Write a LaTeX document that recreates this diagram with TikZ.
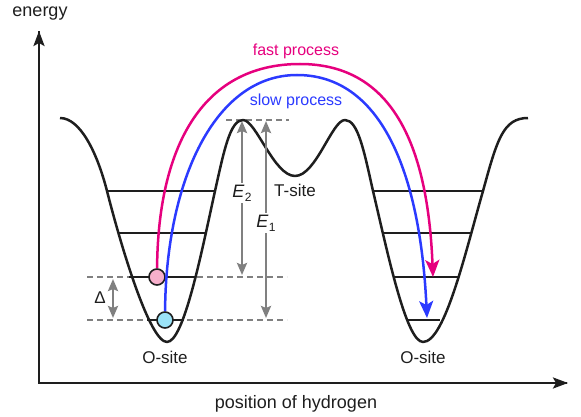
\documentclass[tikz,border=0pt]{standalone}
\usepackage{fontspec}
\setmainfont{Liberation Sans}
\usetikzlibrary{arrows.meta}
\definecolor{fastc}{RGB}{230,0,126}
\definecolor{slowc}{RGB}{43,58,255}
\definecolor{grayc}{RGB}{128,128,128}
\definecolor{pinkc}{RGB}{247,175,203}
\definecolor{cyanc}{RGB}{155,227,247}
\definecolor{inkc}{RGB}{30,30,30}
\begin{document}
\begin{tikzpicture}[x=1pt,y=-1pt,
  axis/.style={line width=2.4pt,draw=inkc,-{Stealth[length=15pt,width=11pt,inset=3pt]}},
  pot/.style={line width=2.5pt,draw=inkc,line join=round},
  level/.style={line width=2pt,draw=inkc},
  dashline/.style={line width=2pt,draw=grayc,dash pattern=on 6pt off 4pt},
  garrow/.style={line width=2.6pt,draw=grayc,{Stealth[length=12pt,width=10pt,inset=2pt]}-{Stealth[length=12pt,width=10pt,inset=2pt]}},
  proc/.style={line width=2.5pt,-{Stealth[length=17pt,width=14pt,inset=4pt]}},
  dot/.style={circle,draw=inkc,line width=1.6pt,minimum size=16pt,inner sep=0pt},
  lab/.style={inner sep=1pt,font=\fontsize{17}{19}\selectfont,text=inkc},
  elab/.style={inner sep=1.5pt,fill=white,font=\fontsize{18}{20}\selectfont,text=inkc}]
\useasboundingbox (0,0) rectangle (581,417);

% axes
\coordinate (O) at (39,383);
\coordinate (ytop) at (39,31);
\coordinate (xend) at (568,383);
\draw[line width=2.4pt,draw=inkc] (39,31.5) -- (O) -- (567,383);
\draw[axis] (O) -- (ytop);
\draw[axis] (O) -- (xend);
\node[lab,font=\fontsize{18}{20}\selectfont] (en) at (40,14) {energy};
\node[lab,font=\fontsize{18}{20}\selectfont] (ph) at (296,404) {position of hydrogen};

% dashed reference lines
\draw[dashline] (226,120) -- (289,120);
\draw[dashline] (87,277) -- (287,277);
\draw[dashline] (87,320) -- (287,320);

% energy levels
\draw[level] (107,191) -- (215,191);
\draw[level] (118,233) -- (206,233);
\draw[level] (129,277) -- (196,277);
\draw[level] (147,320) -- (184,320);
\draw[level] (373,191) -- (483,191);
\draw[level] (382,233) -- (471,233);
\draw[level] (393,277) -- (458,277);
\draw[level] (408,320) -- (440,320);

% potential curve
\draw[pot] (60,118) .. controls (80,118) and (97,152) .. (107,191)
  .. controls (122,250) and (150,342) .. (167,342)
  .. controls (184,342) and (202,250) .. (215,191)
  .. controls (224,151) and (230,120) .. (243,120)
  .. controls (256,120) and (274,176) .. (295,176)
  .. controls (316,176) and (332,120) .. (345,120)
  .. controls (358,120) and (364,151) .. (373,191)
  .. controls (387,250) and (406,342) .. (423,342)
  .. controls (445,342) and (466,250) .. (483,191)
  .. controls (497,140) and (503,118) .. (528,118);

% gray arrows
\coordinate (e2t) at (242,121);
\coordinate (e2b) at (242,275);
\coordinate (e1t) at (266,121);
\coordinate (e1b) at (266,318);
\coordinate (dt) at (113,279);
\coordinate (db) at (113,318);
\draw[garrow] (e2t) -- (e2b);
\draw[garrow] (e1t) -- (e1b);
\draw[garrow] (dt) -- (db);
\node[elab] (E2) at (242,193) {\itshape E\kern0.5pt\raisebox{-0.4ex}{\upshape\fontsize{12}{13}\selectfont 2}};
\node[elab] (E1) at (266,223) {\itshape E\kern0.5pt\raisebox{-0.4ex}{\upshape\fontsize{12}{13}\selectfont 1}};
\node[lab] (D) at (100,298) {Δ};

% labels
\node[lab] (ts) at (295,190) {T-site};
\node[lab] (os1) at (165,357) {O-site};
\node[lab] (os2) at (423,357) {O-site};

% particles
\node[dot,fill=pinkc] (pk) at (157,277) {};
\node[dot,fill=cyanc] (cy) at (165,320) {};

% processes
\coordinate (fe) at (433,277);
\coordinate (se) at (427,318);
\draw[proc,draw=fastc] (pk) .. controls (158,150) and (200,64) .. (300,64)
  .. controls (395,64) and (428,150) .. (fe);
\draw[proc,draw=slowc] (cy) .. controls (166,180) and (215,75) .. (297,75)
  .. controls (380,75) and (420,170) .. (se);
\node[lab,text=fastc,font=\fontsize{16}{18}\selectfont] (fp) at (296,51) {fast process};
\node[lab,text=slowc,font=\fontsize{16}{18}\selectfont] (sp) at (296,101) {slow process};
\end{tikzpicture}
\end{document}
